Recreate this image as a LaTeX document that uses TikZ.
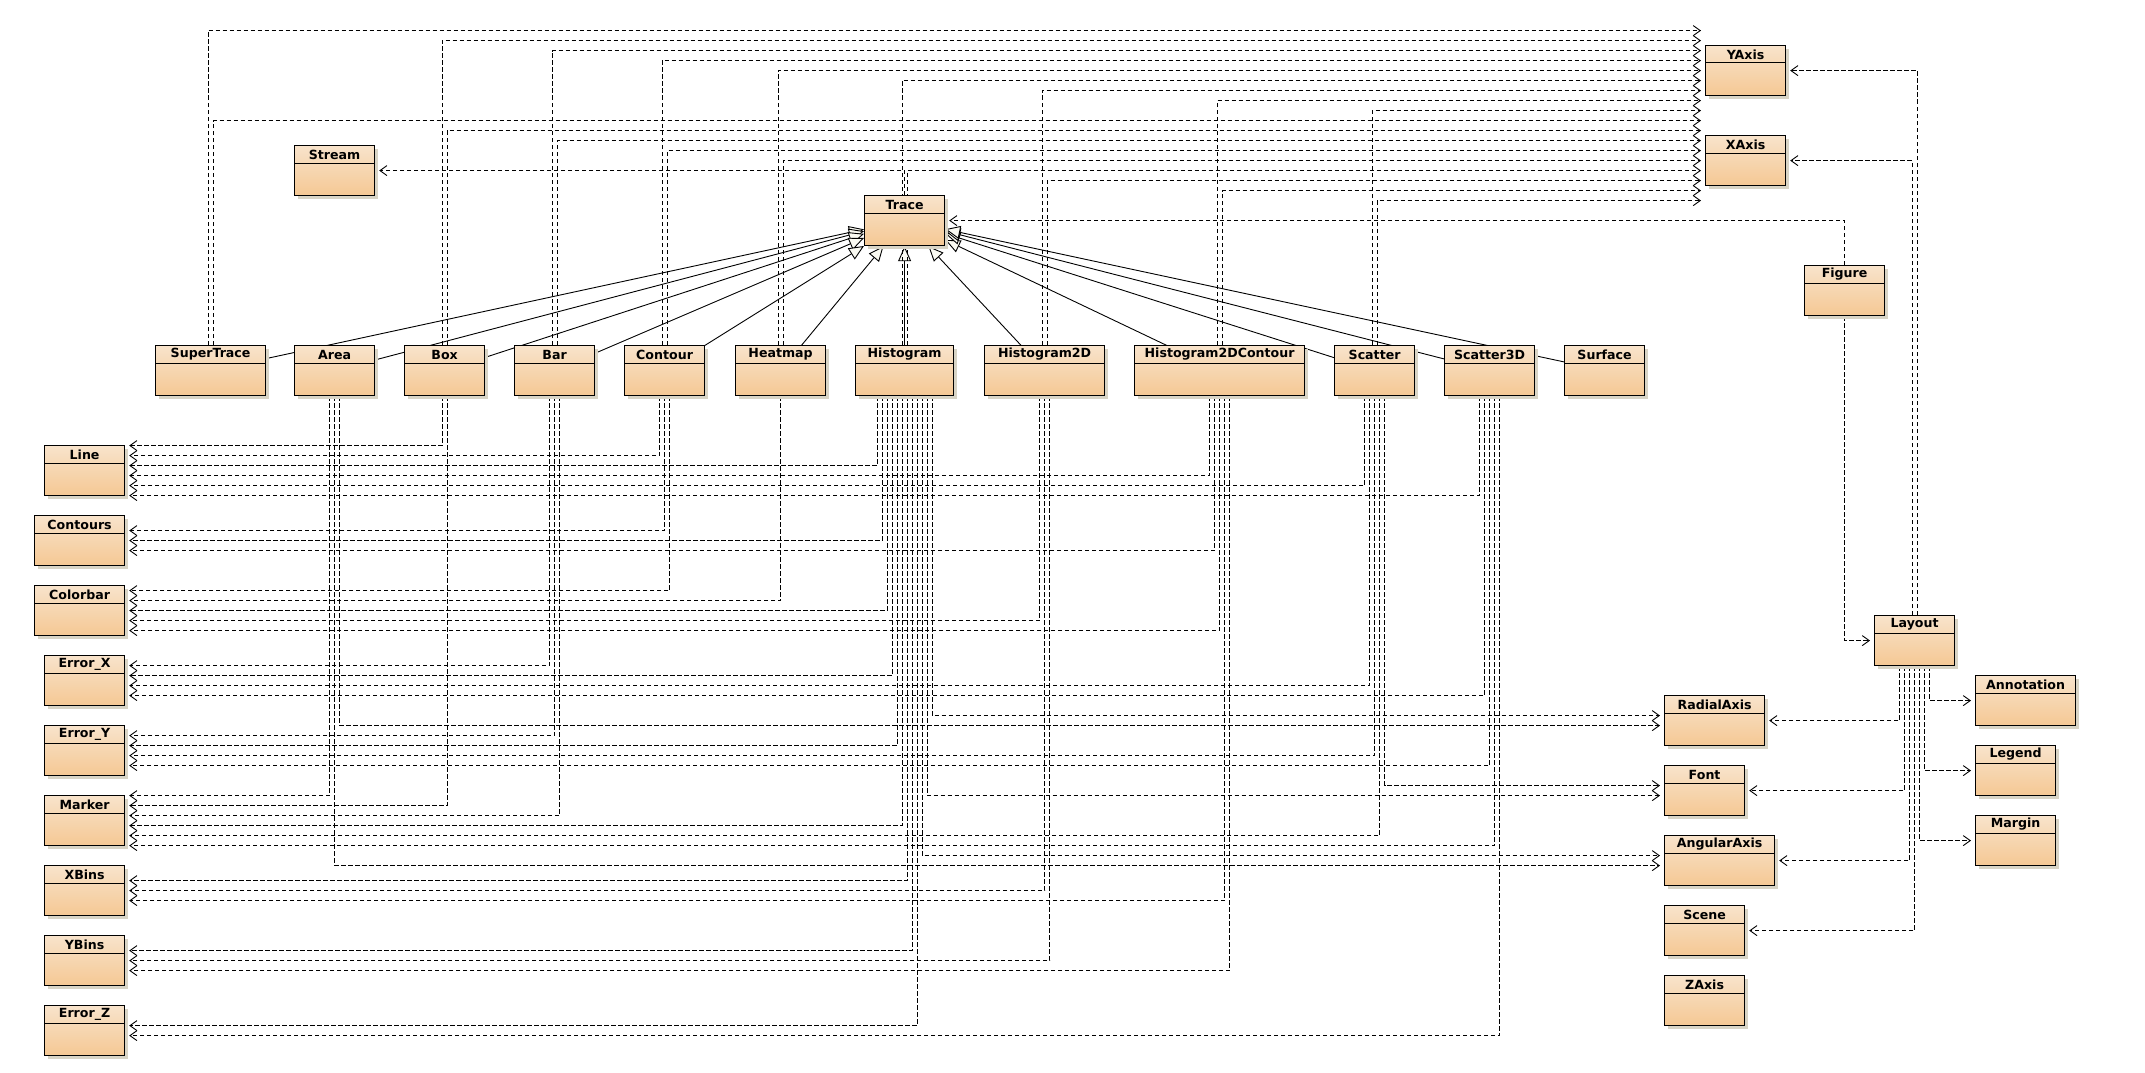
\documentclass[tikz,border=0pt]{standalone}
\usepackage{fontspec}
\setmainfont{DejaVu Sans}
\usetikzlibrary{calc,arrows.meta,backgrounds,shadows}

\definecolor{classtop}{HTML}{F8E3CB}
\definecolor{classbot}{HTML}{F5C894}
\definecolor{classshade}{HTML}{D8D4C6}
\definecolor{tipfill}{HTML}{FAFAF2}

% one UML class: id, left, top, width, name
\newcommand{\umlclass}[5]{%
  \node[class, minimum width=#4pt] (#1) at (#2,#3) {};
  \node[classname] (#1-name) at ($(#1.north)+(0,9.5)$) {#5};
  \draw[classrule] ($(#1.north west)+(0,18)$) -- ($(#1.north east)+(0,18)$);
}

\begin{document}
\begin{tikzpicture}
        [x=1pt,y=-1pt,
        class/.style={draw=black,rectangle,line width=1.2pt,anchor=north west,minimum height=50pt,inner sep=0pt,
          top color=classtop,bottom color=classbot,
          drop shadow={shadow xshift=3pt,shadow yshift=-3pt,fill=classshade,opacity=1}},
        classname/.style={font=\bfseries\fontsize{12.6}{14}\selectfont,inner sep=0pt},
        classrule/.style={line width=1pt},
        dep/.style={draw,dash pattern=on 4.5pt off 2.5pt,line width=0.9pt,-{Straight Barb[length=7pt,width=10pt]}},
        inherit/.style={draw,line width=0.9pt,-{Triangle[length=15pt,width=13pt,fill=tipfill]}}]
        \useasboundingbox (0,0) rectangle (2145,1073);

        % classes
        \umlclass{stream}{294}{145}{80}{Stream}
        \umlclass{trace}{864}{195}{80}{Trace}
        \umlclass{yaxis}{1705}{45}{80}{YAxis}
        \umlclass{xaxis}{1705}{135}{80}{XAxis}
        \umlclass{figure}{1804}{265}{80}{Figure}
        \umlclass{layout}{1874}{615}{80}{Layout}

        \umlclass{supertrace}{155}{345}{110}{SuperTrace}
        \umlclass{area}{294}{345}{80}{Area}
        \umlclass{box}{404}{345}{80}{Box}
        \umlclass{bar}{514}{345}{80}{Bar}
        \umlclass{contour}{624}{345}{80}{Contour}
        \umlclass{heatmap}{735}{345}{90}{Heatmap}
        \umlclass{histogram}{855}{345}{98}{Histogram}
        \umlclass{histtwod}{984}{345}{120}{Histogram2D}
        \umlclass{histcontour}{1134}{345}{170}{Histogram2DContour}
        \umlclass{scatter}{1334}{345}{80}{Scatter}
        \umlclass{scatterthreed}{1444}{345}{90}{Scatter3D}
        \umlclass{surface}{1564}{345}{80}{Surface}

        \umlclass{line}{44}{445}{80}{Line}
        \umlclass{contours}{34}{515}{90}{Contours}
        \umlclass{colorbar}{34}{585}{90}{Colorbar}
        \umlclass{errorx}{44}{655}{80}{Error\_X}
        \umlclass{errory}{44}{725}{80}{Error\_Y}
        \umlclass{marker}{44}{795}{80}{Marker}
        \umlclass{xbins}{44}{865}{80}{XBins}
        \umlclass{ybins}{44}{935}{80}{YBins}
        \umlclass{errorz}{44}{1005}{80}{Error\_Z}

        \umlclass{radialaxis}{1664}{695}{100}{RadialAxis}
        \umlclass{font}{1664}{765}{80}{Font}
        \umlclass{angularaxis}{1664}{835}{110}{AngularAxis}
        \umlclass{scene}{1664}{905}{80}{Scene}
        \umlclass{zaxis}{1664}{975}{80}{ZAxis}
        \umlclass{annotation}{1975}{675}{100}{Annotation}
        \umlclass{legend}{1975}{745}{80}{Legend}
        \umlclass{margin}{1975}{815}{80}{Margin}

        \begin{scope}[on background layer]
        % generalisation
        \foreach \c in {supertrace,area,box,bar,contour,heatmap,histogram,histtwod,histcontour,scatter,scatterthreed,surface}
            \draw[inherit] (\c.center) -- (trace);

        % uses, upwards to the axes
        \foreach \s/\dy in {supertrace/-40,box/-30,bar/-20,contour/-10,heatmap/0,histogram/10,histtwod/20,histcontour/30,scatter/40} {
            \draw[dep] ([xshift=-2.5pt]\s.north) |- ($(yaxis.west)+(-4,\dy)$);
            \draw[dep] ([xshift=2.5pt]\s.north) |- ($(xaxis.west)+(-4,\dy)$);
        }
        \draw[dep] (trace.north) |- ($(stream.east)+(4,0)$);
        \draw[dep] (figure.north) |- ($(trace.east)+(4,0)$);
        \draw[dep] (figure.south) |- ($(layout.west)+(-4,0)$);
        \draw[dep] ([xshift=2.5pt]layout.north) |- ($(yaxis.east)+(4,0)$);
        \draw[dep] ([xshift=-2.5pt]layout.north) |- ($(xaxis.east)+(4,0)$);

        % uses, down to the left column
        \foreach \s/\dx/\t/\dy in {
            box/-2.5/line/-25, contour/-5/line/-15, histogram/-27.5/line/-5,
            histcontour/-10/line/5, scatter/-10/line/15, scatterthreed/-10/line/25,
            contour/0/contours/-10, histogram/-22.5/contours/0, histcontour/-5/contours/10,
            contour/5/colorbar/-20, heatmap/0/colorbar/-10, histogram/-17.5/colorbar/0,
            histtwod/-5/colorbar/10, histcontour/0/colorbar/20,
            bar/-5/errorx/-15, histogram/-12.5/errorx/-5, scatter/-5/errorx/5, scatterthreed/-5/errorx/15,
            bar/0/errory/-15, histogram/-7.5/errory/-5, scatter/0/errory/5, scatterthreed/0/errory/15,
            area/-5/marker/-25, box/2.5/marker/-15, bar/5/marker/-5,
            histogram/-2.5/marker/5, scatter/5/marker/15, scatterthreed/5/marker/25,
            histogram/2.5/xbins/-10, histtwod/0/xbins/0, histcontour/5/xbins/10,
            histogram/7.5/ybins/-10, histtwod/5/ybins/0, histcontour/10/ybins/10,
            histogram/12.5/errorz/-5, scatterthreed/10/errorz/5}
            \draw[dep] ([xshift=\dx pt]\s.south) |- ($(\t.east)+(4,\dy)$);

        % uses, down to the right column
        \foreach \s/\dx/\t/\dy in {
            histogram/27.5/radialaxis/-5, area/5/radialaxis/5,
            scatter/10/font/-5, histogram/22.5/font/5,
            histogram/17.5/angularaxis/-5, area/0/angularaxis/5}
            \draw[dep] ([xshift=\dx pt]\s.south) |- ($(\t.west)+(-4,\dy)$);

        \foreach \dx/\t in {-15/radialaxis,-10/font,-5/angularaxis,0/scene}
            \draw[dep] ([xshift=\dx pt]layout.south) |- ($(\t.east)+(4,0)$);
        \foreach \dx/\t in {5/margin,10/legend,15/annotation}
            \draw[dep] ([xshift=\dx pt]layout.south) |- ($(\t.west)+(-4,0)$);
        \end{scope}
\end{tikzpicture}
\end{document}
